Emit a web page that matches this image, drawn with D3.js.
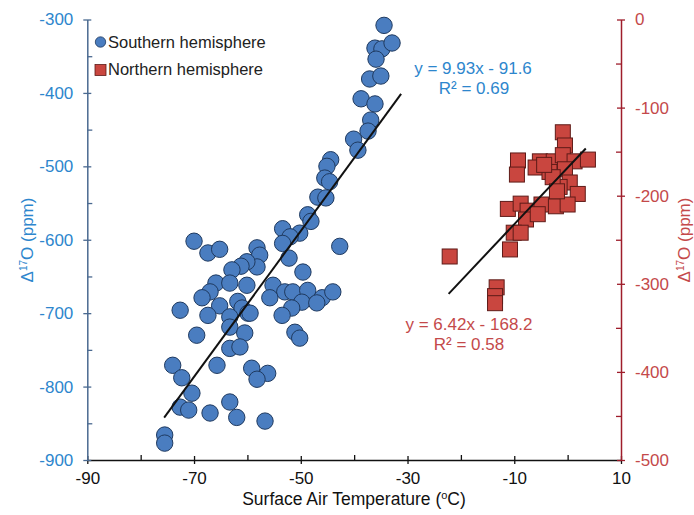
<!DOCTYPE html>
<html>
<head>
<meta charset="utf-8">
<script src="https://cdn.jsdelivr.net/npm/d3@7"></script>
<style>
    body { margin: 0; background: #fff; }
    svg { display: block; font-family: 'Liberation Sans', Arial, sans-serif; }
</style>
</head>
<body>
<div id="chart"></div>
<script>
// Southern hemisphere (left axis), temperature in degC and D17O in ppm
const southTemp = [
    -34.4, -36.1, -34.8, -32.9, -35.9, -37.1, -35.0, -38.7, -36.1, -36.9,
    -37.4, -40.1, -39.3, -44.4, -45.1, -45.5, -44.6, -46.8, -45.3, -48.7,
    -48.1, -50.2, -53.4, -52.0, -53.4, -42.7, -52.2, -49.6, -58.2, -57.7,
    -58.2, -60.1, -61.2, -62.9, -70.0, -67.4, -65.2, -65.9, -63.3, -60.1,
    -67.0, -68.5, -65.2, -61.8, -61.0, -59.9, -72.6, -67.4, -63.3, -63.3,
    -60.5, -69.5, -63.3, -61.4, -74.0, -72.3, -70.4, -72.6, -71.0, -67.0,
    -63.3, -62.0, -56.7, -65.7, -59.2, -56.2, -58.2, -75.5, -75.5, -55.2,
    -53.0, -51.5, -48.7, -46.0, -44.0, -49.8, -47.0, -55.8, -51.7, -53.5,
    -51.1, -50.2, -59.5
];
const southD17O = [
    -308, -339, -340, -332, -354, -381, -377, -408, -415, -437,
    -452, -463, -478, -491, -500, -516, -521, -542, -543, -566,
    -575, -591, -585, -596, -605, -609, -625, -644, -611, -621,
    -637, -630, -636, -641, -602, -618, -613, -659, -659, -662,
    -671, -679, -690, -684, -693, -700, -696, -703, -705, -719,
    -727, -730, -748, -746, -771, -788, -809, -828, -832, -836,
    -821, -842, -847, -771, -775, -782, -790, -866, -877, -662,
    -671, -671, -669, -679, -671, -685, -686, -679, -693, -703,
    -726, -734, -700
];

// Northern hemisphere (right axis)
const northTemp = [
    -0.9, -0.5, -9.3, -9.5, -5.2, -6.0, -2.6, -0.9, 1.3, 3.8,
    -3.4, -0.5, 0.4, 1.9, -1.5, -11.2, -8.8, -7.5, -4.9, -2.2,
    0.0, -7.8, -5.6, -10.1, -8.8, -10.8, -22.1, -13.3, -13.6, -13.6,
    -2.8, -2.0, -4.4
];
const northD17O = [
    -128, -143, -160, -176, -161, -168, -161, -154, -161, -159,
    -173, -170, -185, -198, -190, -215, -209, -217, -210, -212,
    -210, -227, -221, -242, -242, -261, -269, -304, -314, -322,
    -179, -195, -165
];

// linear fits as printed on the chart, with the temperature span of each line
const southFit = { slope: 9.93, intercept: -91.6, from: -75.6, to: -31.2 };
const northFit = { slope: 6.42, intercept: -168.2, from: -22.3, to: 3.4 };

const xTicks = [-90, -70, -50, -30, -10, 10];
const xMinorTicks = [-80, -60, -40, -20, 0];
const leftTicks = [-300, -400, -500, -600, -700, -800, -900];
const leftMinorTicks = [-350, -450, -550, -650, -750, -850];
const rightTicks = [0, -100, -200, -300, -400, -500];
const rightMinorTicks = [-50, -150, -250, -350, -450];

const BLUE_TEXT = '#2d86cd';
const BLUE_AXIS = '#4a6990';
const RED_TEXT = '#c4494a';
const RED_AXIS = '#9e1d2b';

// plain hyphen instead of d3's unicode minus, like the original
const plain = (d) => String(d);

function chart(query) {
    const width = 694;
    const height = 515;
    const margin = { top: 19.5, bottom: 55, left: 87.3, right: 73 };
    const chartWidth = width - margin.left - margin.right;
    const chartHeight = height - margin.top - margin.bottom;

    const svg = d3.select(query).append('svg').attr('width', width).attr('height', height);
    svg.append('rect').attr('width', width).attr('height', height).attr('fill', '#fff');

    const g = svg.append('g').attr('transform', `translate(${margin.left}, ${margin.top})`);

    const x = d3.scaleLinear().domain([-90, 10]).range([0, chartWidth]);
    const yLeft = d3.scaleLinear().domain([-900, -300]).range([chartHeight, 0]);
    const yRight = d3.scaleLinear().domain([-500, 0]).range([chartHeight, 0]);

    // minor ticks point inwards, major ticks cross the axis line
    function styleAxis(sel, color, labelColor) {
        sel.select('.domain').attr('stroke', color).attr('stroke-width', 1.5);
        sel.selectAll('.tick line').attr('stroke', color).attr('stroke-width', 1.3);
        sel.selectAll('.tick text')
            .attr('fill', labelColor)
            .attr('font-size', 17)
            .attr('font-family', "'Liberation Sans', Arial, sans-serif");
    }

    // bottom axis
    const xAxis = g.append('g').attr('transform', `translate(0, ${chartHeight})`)
        .call(d3.axisBottom(x).tickValues(xTicks).tickSizeInner(4).tickSizeOuter(0).tickPadding(8).tickFormat(plain));
    xAxis.selectAll('.tick line').attr('y1', -4);
    styleAxis(xAxis, '#111', '#111');
    const xMinor = g.append('g').attr('transform', `translate(0, ${chartHeight})`)
        .call(d3.axisBottom(x).tickValues(xMinorTicks).tickSize(-5).tickFormat(''));
    xMinor.select('.domain').remove();
    xMinor.selectAll('.tick line').attr('stroke', '#111').attr('stroke-width', 1.3);

    // left axis
    const leftAxis = g.append('g')
        .call(d3.axisLeft(yLeft).tickValues(leftTicks).tickSizeInner(4).tickSizeOuter(0).tickPadding(10).tickFormat(plain));
    leftAxis.selectAll('.tick line').attr('x1', 4);
    styleAxis(leftAxis, BLUE_AXIS, BLUE_TEXT);
    const leftMinor = g.append('g')
        .call(d3.axisLeft(yLeft).tickValues(leftMinorTicks).tickSize(-5).tickFormat(''));
    leftMinor.select('.domain').remove();
    leftMinor.selectAll('.tick line').attr('stroke', BLUE_AXIS).attr('stroke-width', 1.3);

    // right axis
    const rightAxis = g.append('g').attr('transform', `translate(${chartWidth}, 0)`)
        .call(d3.axisRight(yRight).tickValues(rightTicks).tickSizeInner(4).tickSizeOuter(0).tickPadding(10).tickFormat(plain));
    rightAxis.selectAll('.tick line').attr('x1', -4);
    styleAxis(rightAxis, RED_AXIS, RED_TEXT);
    const rightMinor = g.append('g').attr('transform', `translate(${chartWidth}, 0)`)
        .call(d3.axisRight(yRight).tickValues(rightMinorTicks).tickSize(-5).tickFormat(''));
    rightMinor.select('.domain').remove();
    rightMinor.selectAll('.tick line').attr('stroke', RED_AXIS).attr('stroke-width', 1.3);

    // southern points + fit
    const south = southTemp.map((t, i) => ({ t: t, v: southD17O[i] }));
    g.append('g')
        .selectAll('circle')
        .data(south)
        .enter()
        .append('circle')
        .attr('cx', (d) => x(d.t))
        .attr('cy', (d) => yLeft(d.v))
        .attr('r', 8.2)
        .attr('fill', '#4a7dc0')
        .attr('stroke', '#1f3a60')
        .attr('stroke-width', 1);

    g.append('line')
        .attr('x1', x(southFit.from))
        .attr('y1', yLeft(southFit.slope * southFit.from + southFit.intercept))
        .attr('x2', x(southFit.to))
        .attr('y2', yLeft(southFit.slope * southFit.to + southFit.intercept))
        .attr('stroke', '#111')
        .attr('stroke-width', 2);

    // northern points + fit
    const north = northTemp.map((t, i) => ({ t: t, v: northD17O[i] }));
    const side = 15;
    g.append('g')
        .selectAll('rect')
        .data(north)
        .enter()
        .append('rect')
        .attr('x', (d) => x(d.t) - side / 2)
        .attr('y', (d) => yRight(d.v) - side / 2)
        .attr('width', side)
        .attr('height', side)
        .attr('fill', '#c9463f')
        .attr('stroke', '#5e1b18')
        .attr('stroke-width', 1);

    g.append('line')
        .attr('x1', x(northFit.from))
        .attr('y1', yRight(northFit.slope * northFit.from + northFit.intercept))
        .attr('x2', x(northFit.to))
        .attr('y2', yRight(northFit.slope * northFit.to + northFit.intercept))
        .attr('stroke', '#111')
        .attr('stroke-width', 2);

    // equations
    const eq = svg.append('g').attr('font-size', 17).attr('text-anchor', 'middle');
    eq.append('text').attr('x', 473).attr('y', 74).attr('fill', BLUE_TEXT).text('y = 9.93x - 91.6');
    eq.append('text').attr('x', 474).attr('y', 94).attr('fill', BLUE_TEXT).text('R² = 0.69');
    eq.append('text').attr('x', 469).attr('y', 330).attr('fill', RED_TEXT).text('y = 6.42x - 168.2');
    eq.append('text').attr('x', 469).attr('y', 350).attr('fill', RED_TEXT).text('R² = 0.58');

    // legend
    const legend = svg.append('g').attr('font-size', 16.5).attr('fill', '#222');
    legend.append('circle').attr('cx', 100.5).attr('cy', 42).attr('r', 5.2)
        .attr('fill', '#4a7dc0').attr('stroke', '#1f3a60').attr('stroke-width', 0.8);
    legend.append('text').attr('x', 108).attr('y', 48).text('Southern hemisphere');
    legend.append('rect').attr('x', 95).attr('y', 64.5).attr('width', 11).attr('height', 11)
        .attr('fill', '#c9463f').attr('stroke', '#5e1b18').attr('stroke-width', 0.8);
    legend.append('text').attr('x', 108).attr('y', 75).text('Northern hemisphere');

    // axis titles
    const xTitle = svg.append('text')
        .attr('x', 354).attr('y', 505)
        .attr('text-anchor', 'middle').attr('font-size', 17.5).attr('fill', '#111');
    xTitle.append('tspan').text('Surface Air Temperature (');
    xTitle.append('tspan').attr('font-size', 11).attr('dy', -6).text('o');
    xTitle.append('tspan').attr('dy', 6).text('C)');

    function yTitle(px, color) {
        const t = svg.append('text')
            .attr('transform', `translate(${px}, 240) rotate(-90)`)
            .attr('text-anchor', 'middle').attr('font-size', 17).attr('fill', color);
        t.append('tspan').text('Δ');
        t.append('tspan').attr('font-size', 10).attr('dy', -6).text('17');
        t.append('tspan').attr('dy', 6).text('O (ppm)');
    }
    yTitle(33, BLUE_TEXT);
    yTitle(690, RED_TEXT);
}

window.addEventListener('DOMContentLoaded', () => {
    chart('#chart');
});
</script>
</body>
</html>
